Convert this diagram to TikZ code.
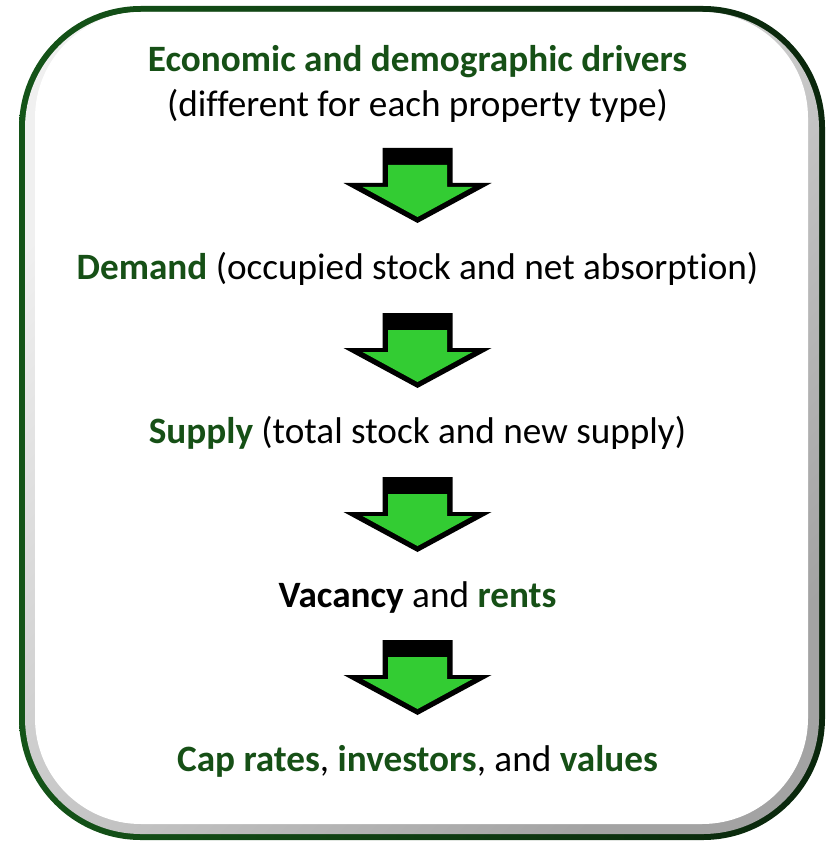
\documentclass[tikz,border=0pt]{standalone}
\usepackage{fontspec}
\setmainfont[Ligatures=NoCommon]{Carlito}
\definecolor{dkgreen}{RGB}{22,80,22}
\definecolor{framegreenA}{RGB}{20,84,24}
\definecolor{framegreenB}{RGB}{10,38,12}
\definecolor{arrowgreen}{RGB}{51,204,51}
\newcommand{\gb}[1]{\textbf{\color{dkgreen}#1}}
\tikzset{
  txt/.style={anchor=base, inner sep=0pt, font=\fontsize{37.2}{44}\selectfont, text=black},
  pics/downarrow/.style={code={
    \fill[black] (-35,0) -- (35,0) -- (35,35) -- (74,35) -- (0,75) -- (-74,35) -- (-35,35) -- cycle;
    \fill[arrowgreen] (-29.5,17) -- (29.5,17) -- (29.5,39) -- (55,39) -- (0,69) -- (-55,39) -- (-29.5,39) -- cycle;
  }}
}
\begin{document}
\begin{tikzpicture}[x=1pt,y=-1pt]
\useasboundingbox (0,0) rectangle (826,842);
% frame
\shade[left color=framegreenA, right color=framegreenB, rounded corners=122pt] (19,6) rectangle (825,840);
\shade[top color=gray!12, bottom color=gray!72, shading angle=45, rounded corners=116pt] (25,12) rectangle (819,834);
\fill[white, rounded corners=106pt] (35,12) rectangle (808,824);
% texts
\node[txt] (drivers) at (417.5,72) {\gb{Economic and demographic drivers}};
\node[txt] (driversub) at (417.5,117) {(different for each property type)};
\node[txt] (demand) at (417.5,279) {\gb{Demand} (occupied stock and net absorption)};
\node[txt] (supply) at (417.5,443) {\gb{Supply} (total stock and new supply)};
\node[txt] (vacancy) at (417.5,607) {\textbf{Vacancy} and \gb{rents}};
\node[txt] (values) at (417.5,771) {\gb{Cap rates}, \gb{investors}, and \gb{values}};
% arrows
\coordinate (a1) at (417.5,148);
\coordinate (a2) at (417.5,313);
\coordinate (a3) at (417.5,477);
\coordinate (a4) at (417.5,640);
\pic at (a1) {downarrow};
\pic at (a2) {downarrow};
\pic at (a3) {downarrow};
\pic at (a4) {downarrow};
\end{tikzpicture}
\end{document}
